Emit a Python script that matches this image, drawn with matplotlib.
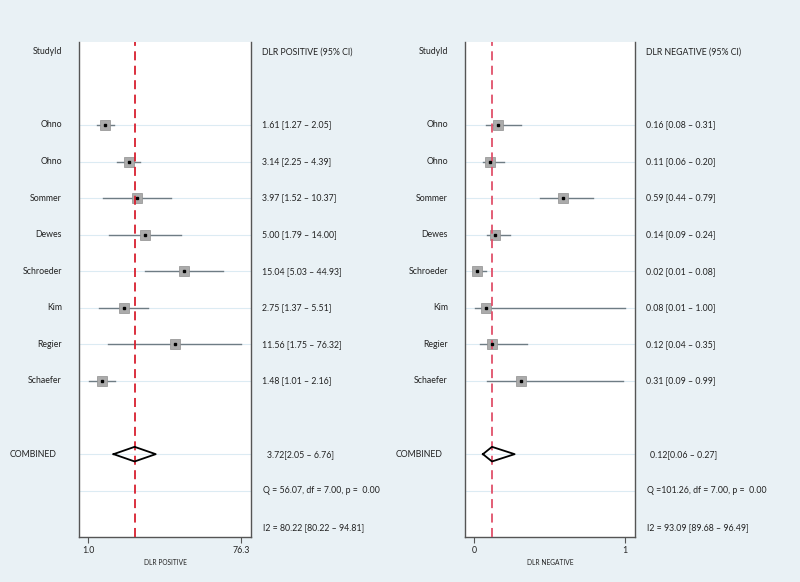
import numpy as np
import matplotlib.pyplot as plt
from matplotlib.ticker import NullLocator

plt.rcParams['font.family'] = ['Lato', 'DejaVu Sans']

# Estudos
studies = ["Ohno", "Ohno", "Sommer", "Dewes", "Schroeder", "Kim", "Regier", "Schaefer"]

# DLR positivo
pos_est = [1.61, 3.14, 3.97, 5.00, 15.04, 2.75, 11.56, 1.48]
pos_lo = [1.27, 2.25, 1.52, 1.79, 5.03, 1.37, 1.75, 1.01]
pos_hi = [2.05, 4.39, 10.37, 14.00, 44.93, 5.51, 76.32, 2.16]
pos_comb = [3.72, 2.05, 6.76]
pos_q = "Q = 56.07, df = 7.00, p =  0.00"
pos_i2 = "I2 = 80.22 [80.22 \u2013 94.81]"

# DLR negativo
neg_est = [0.16, 0.11, 0.59, 0.14, 0.02, 0.08, 0.12, 0.31]
neg_lo = [0.08, 0.06, 0.44, 0.09, 0.01, 0.01, 0.04, 0.09]
neg_hi = [0.31, 0.20, 0.79, 0.24, 0.08, 1.00, 0.35, 0.99]
neg_comb = [0.12, 0.06, 0.27]
neg_q = "Q =101.26, df = 7.00, p =  0.00"
neg_i2 = "I2 = 93.09 [89.68 \u2013 96.49]"

BG = "#e9f1f5"
TXT = "#222222"
FS = 6.3

fig = plt.figure(figsize=(8, 5.82), dpi=100, facecolor=BG)


def painel(rect, est, lo, hi, comb, qtxt, i2txt, header, xlabel, logx, xlim, ticks, ticklabels, redcolor):
    ax = fig.add_axes(rect)
    ax.set_facecolor("white")
    rows = np.arange(2, 2 + len(est))
    if logx:
        ax.set_xscale("log")
    ax.set_xlim(*xlim)
    ax.set_ylim(13.27, -0.27)

    # linhas de grade
    for r in list(rows) + [11, 12]:
        ax.axhline(r, color="#dcebf3", lw=0.8, zorder=0)

    # intervalos e pontos
    for r, e, l, h in zip(rows, est, lo, hi):
        ax.plot([l, h], [r, r], color="#6e7c84", lw=1.0, zorder=2)
    ax.plot(est, rows, "s", ms=7, mfc="#ababab", mec="#8f8f8f", mew=0.5, zorder=3)
    ax.plot(est, rows, "s", ms=2.0, color="black", zorder=4)

    # diamante combinado
    c, cl, ch = comb
    ax.plot([cl, c, ch, c, cl], [11, 10.8, 11, 11.2, 11], color="black", lw=1.3, zorder=4)

    # linha de referência
    ax.axvline(c, color=redcolor, lw=1.3, ls=(0, (5, 3)), zorder=3)

    # eixos
    ax.spines["top"].set_visible(False)
    for s in ["left", "right", "bottom"]:
        ax.spines[s].set_color("#555555")
        ax.spines[s].set_linewidth(1.0)
    ax.set_yticks([])
    ax.xaxis.set_minor_locator(NullLocator())
    ax.set_xticks(ticks)
    ax.set_xticklabels(ticklabels, fontsize=6.3, color=TXT)
    ax.tick_params(axis="x", length=4, width=0.8, color="#555555", pad=2)
    ax.set_xlabel(xlabel, fontsize=4.8, color=TXT, labelpad=3)

    # textos à esquerda
    tr = ax.get_yaxis_transform()
    ax.text(-0.1, 0, "StudyId", transform=tr, ha="right", va="center", fontsize=FS, color=TXT)
    for r, nome in zip(rows, studies):
        ax.text(-0.1, r, nome, transform=tr, ha="right", va="center", fontsize=FS, color=TXT)
    ax.text(-0.13, 11, "COMBINED", transform=tr, ha="right", va="center", fontsize=FS, color=TXT)

    # textos à direita
    ax.text(1.065, 0, header, transform=tr, ha="left", va="center", fontsize=FS, color=TXT)
    for r, e, l, h in zip(rows, est, lo, hi):
        ax.text(1.065, r, f"{e:.2f} [{l:.2f} \u2013 {h:.2f}]", transform=tr,
                ha="left", va="center", fontsize=FS, color=TXT)
    ax.text(1.09, 11, f"{c:.2f}[{cl:.2f} \u2013 {ch:.2f}]", transform=tr,
            ha="left", va="center", fontsize=FS, color=TXT)
    ax.text(1.07, 12, qtxt, transform=tr, ha="left", va="center", fontsize=FS, color=TXT)
    ax.text(1.07, 13, i2txt, transform=tr, ha="left", va="center", fontsize=FS, color=TXT)
    return ax


painel([0.099, 0.077, 0.215, 0.851], pos_est, pos_lo, pos_hi, pos_comb, pos_q, pos_i2,
       "DLR POSITIVE (95% CI)", "DLR POSITIVE", True, (0.775, 101.0),
       [1.0, 76.3], ["1.0", "76.3"], "#d8202f")

painel([0.581, 0.077, 0.2125, 0.851], neg_est, neg_lo, neg_hi, neg_comb, neg_q, neg_i2,
       "DLR NEGATIVE (95% CI)", "DLR NEGATIVE", False, (-0.06, 1.066),
       [0, 1], ["0", "1"], "#e0506a")

plt.savefig("out.png", dpi=100, facecolor=BG)
